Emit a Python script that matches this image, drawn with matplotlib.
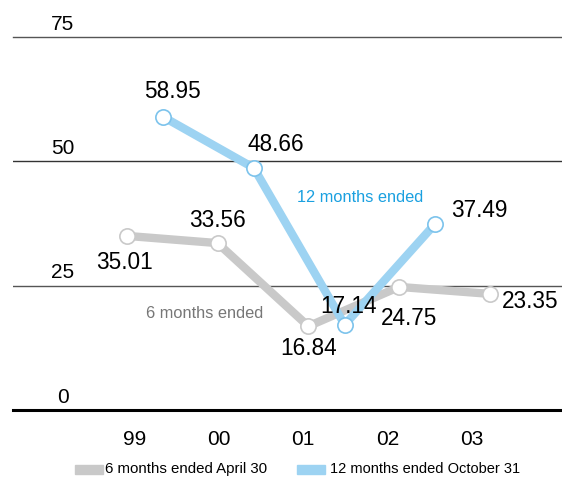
import matplotlib.pyplot as plt

# ======================================
# Data
# ======================================

years = ["99", "00", "01", "02", "03"]
six_month = [35.01, 33.56, 16.84, 24.75, 23.35]
twelve_month = [58.95, 48.66, 17.14, 37.49]
y_ticks = [0, 25, 50, 75]

GRAY = "#c9c9c9"
BLUE = "#9dd3f2"
BLUE_EDGE = "#7cc3ec"
BLUE_TEXT = "#1aa0e0"

plt.rcParams["font.family"] = ["Liberation Sans", "DejaVu Sans"]

fig = plt.figure(figsize=(5.62, 4.78), dpi=100)
ax = fig.add_axes([13 / 562, (478 - 410) / 478, 549 / 562, 373 / 478])

x6 = [i - 0.2 for i in range(len(six_month))]
x12 = [i + 0.2 for i in range(len(twelve_month))]

# gridlines
ax.axhline(25, color="#555555", lw=1.0, zorder=1)
ax.axhline(50, color="#333333", lw=1.0, zorder=1)
ax.axhline(75, color="#555555", lw=1.0, zorder=1, clip_on=False)
ax.axhline(0, color="black", lw=2.2, zorder=1, clip_on=False)

ax.plot(x6, six_month, color=GRAY, lw=6, solid_capstyle="butt", zorder=2,
        marker="o", ms=11, mfc="white", mec=GRAY, mew=1.2, clip_on=False)
ax.plot(x12, twelve_month, color=BLUE, lw=6, solid_capstyle="butt", zorder=3,
        marker="o", ms=11, mfc="white", mec=BLUE_EDGE, mew=1.2, clip_on=False)

# y labels sit on top of gridlines
for v in y_ticks:
    ax.text(-0.909, v + 0.7, str(v), ha="center", va="bottom", fontsize=15)

# x labels
for i, lab in enumerate(years):
    ax.annotate(lab, (-0.116 + 0.93 * i, 0), xytext=(0, -21),
                textcoords="offset points", ha="center", va="center", fontsize=15)

# data labels (offsets in points)
fs = 16.3
offsets6 = [(-2, -19.5, "center"), (0, 16, "center"), (0, -16, "center"),
            (7, -23, "center"), (8.6, -5.8, "left")]
for x, y, (dx, dy, ha) in zip(x6, six_month, offsets6):
    ax.annotate(f"{y:.2f}", (x, y), xytext=(dx, dy), textcoords="offset points",
                ha=ha, va="center", fontsize=fs)

offsets12 = [(7, 18, "center"), (16, 17, "center"), (3, 13, "center"),
             (11.5, 9.4, "left")]
for x, y, (dx, dy, ha) in zip(x12, twelve_month, offsets12):
    ax.annotate(f"{y:.2f}", (x, y), xytext=(dx, dy), textcoords="offset points",
                ha=ha, va="center", fontsize=fs)

ax.text(2.369, 42.8, "12 months ended", color=BLUE_TEXT, fontsize=11.8,
        ha="center", va="center")
ax.text(0.656, 19.5, "6 months ended", color="#777777", fontsize=11.8,
        ha="center", va="center")

ax.set_xlim(-1.4545, 4.595)
ax.set_ylim(0, 75)
ax.set_xticks([])
ax.set_yticks([])
for s in ax.spines.values():
    s.set_visible(False)

# legend
fig.patches.append(plt.Rectangle((75 / 562, 4 / 478), 28 / 562, 9 / 478,
                                 transform=fig.transFigure, color=GRAY))
fig.text(105 / 562, 9 / 478, "6 months ended April 30", fontsize=10.8, va="center")
fig.patches.append(plt.Rectangle((297 / 562, 4 / 478), 28 / 562, 9 / 478,
                                 transform=fig.transFigure, color=BLUE))
fig.text(330 / 562, 9 / 478, "12 months ended October 31", fontsize=10.5, va="center")

fig.savefig("out.png", dpi=100)
